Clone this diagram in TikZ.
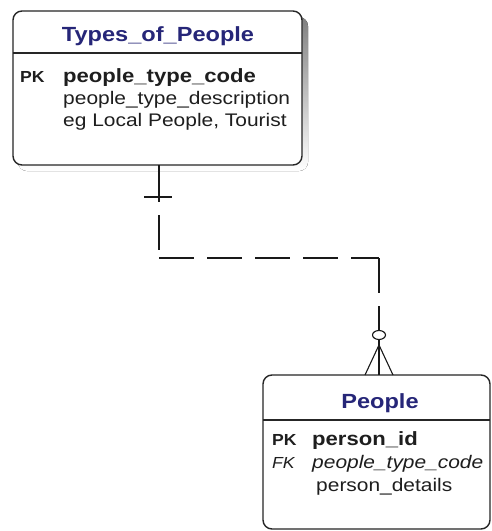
\documentclass[tikz,border=0pt]{standalone}
\usepackage{fontspec}
\setmainfont{Liberation Sans}
\usetikzlibrary{calc}
\definecolor{titleblue}{RGB}{38,38,120}
\definecolor{txt}{RGB}{30,30,30}
\definecolor{shade}{RGB}{180,180,180}
\tikzset{
  entbox/.style={draw=black!85, line width=1.4pt, fill=white, rounded corners=9pt},
  divline/.style={draw=black!85, line width=1.2pt},
  ttl/.style={anchor=base, xscale=1.15, inner sep=0pt, text=titleblue, font=\fontsize{20.5}{24}\selectfont\bfseries},
  keyl/.style={anchor=base west, xscale=1.1, inner sep=0pt, text=txt, font=\fontsize{16}{19}\selectfont\bfseries},
  fkl/.style={anchor=base west, xscale=1.1, inner sep=0pt, text=txt, font=\fontsize{16}{19}\selectfont\itshape},
  bfield/.style={anchor=base west, xscale=1.15, inner sep=0pt, text=txt, font=\fontsize{19.2}{22}\selectfont\bfseries},
  field/.style={anchor=base west, xscale=1.15, inner sep=0pt, text=txt, font=\fontsize{18.2}{21}\selectfont},
  ifield/.style={anchor=base west, xscale=1.15, inner sep=0pt, text=txt, font=\fontsize{18.2}{21}\selectfont\itshape},
  rel/.style={draw=black!90, line width=1.3pt},
  reldash/.style={rel, dash pattern=on 35pt off 13pt},
}
\begin{document}
\begin{tikzpicture}[x=1pt, y=-1pt]
\useasboundingbox[fill=white] (0,0) rectangle (491,531);
% shadow of top entity
\fill[shade, rounded corners=9pt] (18,17) rectangle (308,171);
% entity boxes
\draw[entbox] (13,11) rectangle (302,165);
\draw[divline] (13,53) -- (302,53);
\draw[entbox] (263,375) rectangle (490,529);
\draw[divline] (263,420) -- (490,420);
% texts of Types_of_People
\node[ttl] (t1) at (158,41) {Types\_of\_People};
\node[keyl] (t1pk) at (20,82) {PK};
\node[bfield] (t1a) at (63,82) {people\_type\_code};
\node[field] (t1b) at (63,104) {people\_type\_description};
\node[field] (t1c) at (63,126) {eg Local People, Tourist};
% texts of People
\node[ttl] (t2) at (380,408) {People};
\node[keyl] (t2pk) at (272,445) {PK};
\node[bfield] (t2a) at (312,445) {person\_id};
\node[fkl] (t2fk) at (272,468) {FK};
\node[ifield] (t2b) at (312,468) {people\_type\_code};
\node[field] (t2c) at (316,491) {person\_details};
% relationship
\coordinate (a0) at (159,165);
\coordinate (a1) at (159,202);
\coordinate (a2) at (159,258);
\coordinate (a3) at (379,258);
\coordinate (a4) at (379,330.5);
\coordinate (b0) at (379,339.5);
\coordinate (b1) at (379,375);
\coordinate (cf) at (379,345);
\coordinate (fl) at (365,375);
\coordinate (fr) at (393,375);
\coordinate (xl) at (144,197);
\coordinate (xr) at (172,197);
\draw[rel] (a0) -- (a1);
\draw[rel] (xl) -- (xr);
\draw[reldash, dash phase=35pt] (a1) -- (a2);
\draw[reldash] (a2) -- (a3);
\draw[reldash] (a3) -- (a4);
\draw[rel, line width=1.1pt] (379,335) ellipse [x radius=6.5, y radius=4.5];
\draw[rel] (b0) -- (b1);
\draw[rel, line width=1.1pt] (fl) -- (cf) -- (fr);
\end{tikzpicture}
\end{document}
